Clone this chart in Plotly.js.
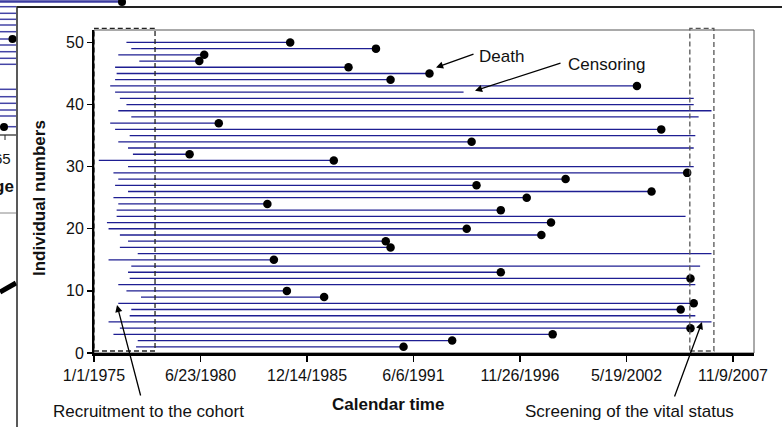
<!DOCTYPE html>
<html>
<head>
<meta charset="utf-8">
<script src="https://cdn.plot.ly/plotly-3.0.1.min.js"></script>
<style>
  html, body { margin: 0; padding: 0; background: #ffffff; }
  #chart { width: 782px; height: 427px; }
</style>
</head>
<body>
<div id="chart"></div>
<script>
// Follow-up of the cohort: one row per individual (1..50)
const individuals = [1, 2, 3, 4, 5, 6, 7, 8, 9, 10,
  11, 12, 13, 14, 15, 16, 17, 18, 19, 20,
  21, 22, 23, 24, 25, 26, 27, 28, 29, 30,
  31, 32, 33, 34, 35, 36, 37, 38, 39, 40,
  41, 42, 43, 44, 45, 46, 47, 48, 49, 50];

// Date of entry into the cohort
const entryDates = [
  '1977-03', '1977-04', '1976-01', '1976-05', '1975-10', '1976-11', '1976-12', '1976-04', '1977-06', '1976-09',
  '1976-04', '1976-11', '1976-10', '1976-12', '1975-10', '1977-04', '1976-05', '1976-10', '1976-05', '1975-10',
  '1975-09', '1976-03', '1976-03', '1976-04', '1976-01', '1976-10', '1976-02', '1976-04', '1976-01', '1976-10',
  '1975-04', '1977-01', '1976-10', '1976-04', '1976-11', '1976-02', '1975-11', '1976-12', '1976-04', '1976-09',
  '1976-05', '1976-02', '1975-11', '1976-02', '1976-03', '1976-02', '1977-05', '1976-04', '1976-12', '1976-09'
];

// Date of death, or of the last known vital status
const exitDates = [
  '1990-12', '1993-06', '1998-08', '2005-09', '2006-10', '2005-12', '2005-03', '2005-11', '1986-11', '1984-12',
  '2005-12', '2005-09', '1995-12', '2006-03', '1984-04', '2006-10', '1990-04', '1990-01', '1998-01', '1994-03',
  '1998-07', '2005-06', '1995-12', '1983-12', '1997-04', '2003-09', '1994-09', '1999-04', '2005-07', '2005-11',
  '1987-05', '1979-12', '2005-11', '1994-06', '2005-12', '2004-03', '1981-06', '2006-02', '2006-10', '2005-11',
  '2005-11', '1994-01', '2002-12', '1990-04', '1992-04', '1988-02', '1980-06', '1980-09', '1989-07', '1985-02'
];

// 1 = death observed, 0 = censored
const died = [
  1, 1, 1, 1, 0, 0, 1, 1, 1, 1,
  0, 1, 1, 0, 1, 0, 1, 1, 1, 1,
  1, 0, 1, 1, 1, 1, 1, 1, 1, 0,
  1, 1, 0, 1, 0, 1, 1, 0, 0, 0,
  0, 0, 1, 1, 1, 1, 1, 1, 1, 1
];

const xTickStart = '1975-01-01';
const xTickStepDays = 2000;
const xRange = ['1975-01-01', '2008-12-07'];
const yTicks = [0, 10, 20, 30, 40, 50];

// Recruitment window and vital-status screening window
const recruitWindow = ['1975-01-01', '1978-02-20'];
const screenWindow = ['2005-08-20', '2006-11-15'];

// Follow-up segments as one trace, rows separated by gaps
const segX = [], segY = [];
individuals.forEach((id, i) => {
  segX.push(entryDates[i], exitDates[i], null);
  segY.push(id, id, null);
});

const deathX = [], deathY = [];
individuals.forEach((id, i) => {
  if (died[i] === 1) { deathX.push(exitDates[i]); deathY.push(id); }
});

const FONT = 'Liberation Sans, Arial, Helvetica, sans-serif';

const traces = [
  {
    type: 'scatter', mode: 'lines', x: segX, y: segY,
    line: { color: '#1e1e92', width: 1.3 },
    connectgaps: false, hoverinfo: 'skip', showlegend: false
  },
  {
    type: 'scatter', mode: 'markers', x: deathX, y: deathY,
    marker: { color: '#000000', size: 8.5 },
    cliponaxis: false, hoverinfo: 'skip', showlegend: false
  }
];

// Pixel helpers for the plotting frame (l=94, t=30, w=660, h=323)
const px = v => (v - 94) / 660;
const py = v => (353 - v) / 323;

// Backdrop pieces of the neighbouring panel, left and top edges
const backLines = [6.7, 13.3, 19.3, 25, 31.7, 39, 45, 51.7, 58.3, 64.3, 89.3, 96.7, 103.3, 110, 116, 126.7];
const shapes = [];
backLines.forEach(v => shapes.push({
  type: 'line', xref: 'paper', yref: 'paper', x0: px(0), x1: px(16), y0: py(v), y1: py(v),
  line: { color: '#4444a6', width: 1.5 }
}));
shapes.push(
  { type: 'line', xref: 'paper', yref: 'paper', x0: px(0), x1: px(122), y0: py(1.5), y1: py(1.5), line: { color: '#3c3ca0', width: 2.5 } },
  { type: 'line', xref: 'paper', yref: 'paper', x0: px(0), x1: px(16), y0: py(135), y1: py(135), line: { color: '#222', width: 1.2 } },
  { type: 'line', xref: 'paper', yref: 'paper', x0: px(5), x1: px(5), y0: py(135), y1: py(140), line: { color: '#222', width: 1 } },
  { type: 'line', xref: 'paper', yref: 'paper', x0: px(0), x1: px(16), y0: py(213), y1: py(213), line: { color: '#888', width: 1 } },
  { type: 'line', xref: 'paper', yref: 'paper', x0: px(0), x1: px(16), y0: py(292), y1: py(283), line: { color: '#000', width: 5 } },
  { type: 'circle', xref: 'paper', yref: 'paper', x0: px(8.5), x1: px(16.5), y0: py(35), y1: py(43), fillcolor: '#000', line: { width: 0 } },
  { type: 'circle', xref: 'paper', yref: 'paper', x0: px(0), x1: px(8), y0: py(123), y1: py(131), fillcolor: '#000', line: { width: 0 } },
  { type: 'circle', xref: 'paper', yref: 'paper', x0: px(118), x1: px(126), y0: py(-2), y1: py(6), fillcolor: '#000', line: { width: 0 } },
  // border of the panel
  { type: 'line', xref: 'paper', yref: 'paper', x0: px(17), x1: px(782), y0: py(7), y1: py(7), line: { color: '#222', width: 2 } },
  { type: 'line', xref: 'paper', yref: 'paper', x0: px(17), x1: px(17), y0: py(6), y1: py(427), line: { color: '#222', width: 1.5 } },
  // plotting frame
  { type: 'rect', xref: 'paper', yref: 'paper', x0: 0, x1: 1, y0: 0, y1: 1, layer: 'below', line: { color: '#555', width: 1 } },
  // dashed windows
  { type: 'rect', xref: 'x', yref: 'paper', x0: recruitWindow[0], x1: recruitWindow[1], y0: py(351), y1: py(28.3),
    line: { color: '#222', width: 1.3, dash: '5px,3px' } },
  { type: 'rect', xref: 'x', yref: 'paper', x0: screenWindow[0], x1: screenWindow[1], y0: py(351), y1: py(28.3),
    line: { color: '#555', width: 1.3, dash: '5px,3px' } }
);

const textFont = { family: FONT, size: 17, color: '#111' };
const label = (x, y, text, font, extra) => Object.assign(
  { xref: 'paper', yref: 'paper', x: px(x), y: py(y), text: text, showarrow: false,
    xanchor: 'center', yanchor: 'middle', font: font }, extra || {});
const arrow = (x, y, ax, ay) => ({
  xref: 'paper', yref: 'paper', x: px(x), y: py(y), ax: ax, ay: ay, text: '', showarrow: true,
  arrowhead: 2, arrowsize: 1.1, arrowwidth: 1.3, arrowcolor: '#000'
});

const annotations = [
  label(501, 56, 'Death', textFont),
  arrow(436, 67.5, 39, -14),
  label(607, 64, 'Censoring', textFont),
  arrow(475, 90.7, 87, -28),
  arrow(117, 305, 24, 92),
  arrow(702, 322, -28, 76),
  label(148, 412, 'Recruitment to the cohort', textFont),
  label(629.5, 412, 'Screening of the vital status', textFont),
  label(388, 404, '<b>Calendar time</b>', { family: FONT, size: 17, color: '#111' }),
  label(39, 198, '<b>Individual numbers</b>', { family: FONT, size: 17, color: '#111' }, { textangle: -90 }),
  label(13, 159, '65', { family: FONT, size: 15, color: '#111' }, { xanchor: 'right' }),
  label(16, 187, '<b>ge</b>', { family: FONT, size: 17, color: '#111' }, { xanchor: 'right' })
];

const layout = {
  width: 782, height: 427,
  margin: { l: 94, r: 28, t: 30, b: 74, pad: 0 },
  paper_bgcolor: '#ffffff', plot_bgcolor: '#ffffff',
  showlegend: false,
  font: { family: FONT, size: 16, color: '#111' },
  xaxis: {
    type: 'date', range: xRange, tick0: xTickStart, dtick: xTickStepDays * 86400000,
    tickformat: '%-m/%-d/%Y', showgrid: false, zeroline: false,
    showline: true, linecolor: '#000', linewidth: 2.5,
    ticks: 'outside', ticklen: 6, tickwidth: 1.3, tickcolor: '#000',
    tickfont: { family: FONT, size: 16, color: '#111' }, fixedrange: true
  },
  yaxis: {
    range: [0, 52], tickvals: yTicks, showgrid: false, zeroline: false,
    showline: true, linecolor: '#000', linewidth: 2,
    ticks: 'outside', ticklen: 5, tickwidth: 1.3, tickcolor: '#000',
    tickfont: { family: FONT, size: 16, color: '#111' }, fixedrange: true
  },
  shapes: shapes,
  annotations: annotations
};

Plotly.newPlot('chart', traces, layout, { staticPlot: true, displayModeBar: false });
</script>
</body>
</html>
